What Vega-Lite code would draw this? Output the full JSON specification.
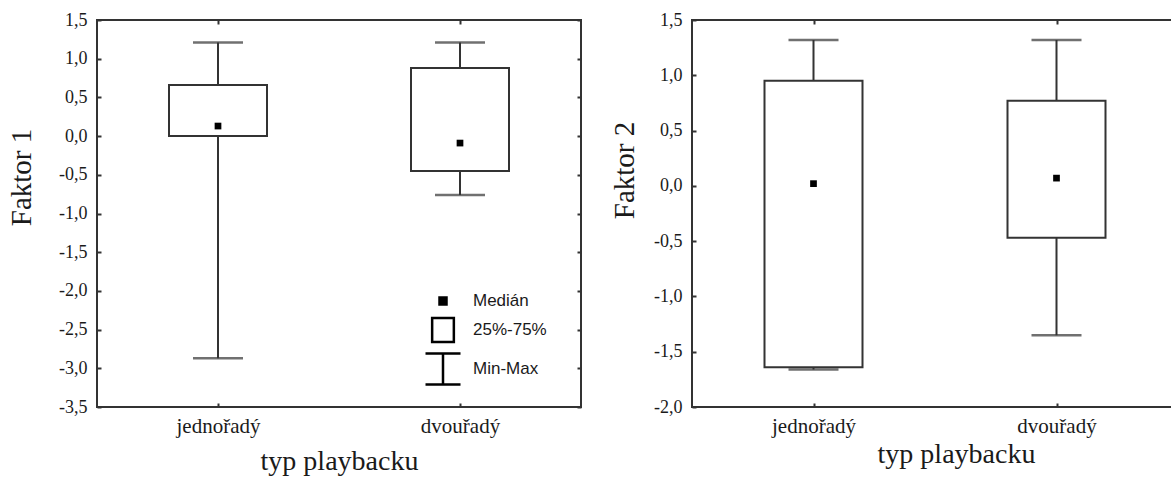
{
  "$schema": "https://vega.github.io/schema/vega-lite/v6.json",
  "background": "white",
  "padding": {"left": 6, "top": 10, "right": 0, "bottom": 0},
  "spacing": 26,
  "config": {
    "view": {"stroke": "#333", "strokeWidth": 2},
    "font": "Liberation Serif",
    "axis": {
      "domain": false,
      "grid": false,
      "tickColor": "#333",
      "tickWidth": 2,
      "tickSize": -4,
      "labelColor": "#1a1a1a",
      "titleColor": "#1a1a1a",
      "titleFontWeight": "normal",
      "labelFont": "Liberation Serif",
      "titleFont": "Liberation Serif"
    }
  },
  "datasets": {
    "f1": [
      {"typ": "jednořadý", "min": -2.87, "q1": 0.0, "median": 0.13, "q3": 0.66, "max": 1.21},
      {"typ": "dvouřadý", "min": -0.76, "q1": -0.45, "median": -0.09, "q3": 0.88, "max": 1.21}
    ],
    "f2": [
      {"typ": "jednořadý", "min": -1.66, "q1": -1.64, "median": 0.02, "q3": 0.95, "max": 1.32},
      {"typ": "dvouřadý", "min": -1.35, "q1": -0.47, "median": 0.07, "q3": 0.77, "max": 1.32}
    ],
    "legend": [
      {"item": "Medián"},
      {"item": "25%-75%"},
      {"item": "Min-Max"}
    ]
  },
  "hconcat": [
    {
      "width": 484,
      "height": 387,
      "resolve": {"axis": {"x": "independent", "y": "independent"}},
      "layer": [
        {
          "data": {"name": "f1"},
          "mark": {"type": "rule", "stroke": "#333", "strokeWidth": 2},
          "encoding": {
            "x": {"field": "typ", "type": "nominal", "sort": ["jednořadý", "dvouřadý"], "scale": {"type": "point", "padding": 0.5},
              "axis": {"title": "typ playbacku", "labelAngle": 0, "labelFontSize": 21, "titleFontSize": 28, "labelPadding": 12, "titlePadding": 11}},
            "y": {"field": "min", "type": "quantitative", "scale": {"domain": [-3.5, 1.5], "nice": false, "zero": false},
              "axis": {"title": "Faktor 1", "titleY": 157, "values": [-3.5, -3, -2.5, -2, -1.5, -1, -0.5, 0, 0.5, 1, 1.5], "labelExpr": "replace(replace(format(datum.value, '.1f'), '.', ','), '\u2212', '-')", "labelFontSize": 18, "titleFontSize": 29, "labelPadding": 14, "titlePadding": 22}},
            "y2": {"field": "max"}
          }
        },
        {
          "data": {"name": "f1"},
          "mark": {"type": "bar", "size": 98, "fill": "white", "stroke": "#333", "strokeWidth": 2},
          "encoding": {
            "x": {"field": "typ", "type": "nominal", "sort": ["jednořadý", "dvouřadý"], "axis": {"orient": "top", "labels": false, "title": null}},
            "y": {"field": "q1", "type": "quantitative", "axis": {"orient": "right", "labels": false, "title": null, "values": [-3.5, -3, -2.5, -2, -1.5, -1, -0.5, 0, 0.5, 1, 1.5]}},
            "y2": {"field": "q3"}
          }
        },
        {
          "data": {"name": "f1"},
          "mark": {"type": "tick", "size": 50, "thickness": 2.5, "color": "#333"},
          "encoding": {
            "x": {"field": "typ", "type": "nominal", "sort": ["jednořadý", "dvouřadý"], "axis": null},
            "y": {"field": "max", "type": "quantitative", "axis": null}
          }
        },
        {
          "data": {"name": "f1"},
          "mark": {"type": "tick", "size": 50, "thickness": 2.5, "color": "#333"},
          "encoding": {
            "x": {"field": "typ", "type": "nominal", "sort": ["jednořadý", "dvouřadý"], "axis": null},
            "y": {"field": "min", "type": "quantitative", "axis": null}
          }
        },
        {
          "data": {"name": "f1"},
          "mark": {"type": "square", "size": 45, "color": "black", "opacity": 1},
          "encoding": {
            "x": {"field": "typ", "type": "nominal", "sort": ["jednořadý", "dvouřadý"], "axis": null},
            "y": {"field": "median", "type": "quantitative", "axis": null}
          }
        },
        {
          "data": {"name": "legend"},
          "transform": [{"filter": "false"}],
          "mark": {"type": "point", "filled": false, "strokeWidth": 2.5, "opacity": 1},
          "encoding": {
            "shape": {"field": "item", "type": "nominal", "sort": ["Medián", "25%-75%", "Min-Max"],
              "scale": {"domain": ["Medián", "25%-75%", "Min-Max"], "range": ["M-0.2,-0.2H0.2V0.2H-0.2Z", "M-0.62,-0.68H0.62V0.68H-0.62Z", "M-1,-0.88H1M0,-0.88V0.88M-1,0.88H1"]},
              "legend": {"title": null, "orient": "none", "legendX": 327, "legendY": 262, "symbolSize": 1225, "symbolStrokeWidth": 2.5, "symbolOpacity": 1, "labelFont": "Liberation Sans", "labelFontSize": 17, "labelColor": "#1a1a1a", "labelOffset": 11, "rowPadding": 1, "padding": 0}},
            "fill": {"field": "item", "type": "nominal", "sort": ["Medián", "25%-75%", "Min-Max"],
              "scale": {"domain": ["Medián", "25%-75%", "Min-Max"], "range": ["black", "white", "white"]}},
            "stroke": {"field": "item", "type": "nominal", "sort": ["Medián", "25%-75%", "Min-Max"],
              "scale": {"domain": ["Medián", "25%-75%", "Min-Max"], "range": ["black", "black", "black"]}}
          }
        }
      ]
    },
    {
      "width": 486,
      "height": 387,
      "resolve": {"axis": {"x": "independent", "y": "independent"}},
      "layer": [
        {
          "data": {"name": "f2"},
          "mark": {"type": "rule", "stroke": "#333", "strokeWidth": 2},
          "encoding": {
            "x": {"field": "typ", "type": "nominal", "sort": ["jednořadý", "dvouřadý"], "scale": {"type": "point", "padding": 0.5},
              "axis": {"title": "typ playbacku", "titleX": 264, "labelAngle": 0, "labelFontSize": 21, "titleFontSize": 28, "labelPadding": 12, "titlePadding": 4}},
            "y": {"field": "min", "type": "quantitative", "scale": {"domain": [-2, 1.5], "nice": false, "zero": false},
              "axis": {"title": "Faktor 2", "titleY": 150, "values": [-2, -1.5, -1, -0.5, 0, 0.5, 1, 1.5], "labelExpr": "replace(replace(format(datum.value, '.1f'), '.', ','), '\u2212', '-')", "labelFontSize": 18, "titleFontSize": 29, "labelPadding": 14, "titlePadding": 14}},
            "y2": {"field": "max"}
          }
        },
        {
          "data": {"name": "f2"},
          "mark": {"type": "bar", "size": 98, "fill": "white", "stroke": "#333", "strokeWidth": 2},
          "encoding": {
            "x": {"field": "typ", "type": "nominal", "sort": ["jednořadý", "dvouřadý"], "axis": {"orient": "top", "labels": false, "title": null}},
            "y": {"field": "q1", "type": "quantitative", "axis": {"orient": "right", "labels": false, "title": null, "values": [-2, -1.5, -1, -0.5, 0, 0.5, 1, 1.5]}},
            "y2": {"field": "q3"}
          }
        },
        {
          "data": {"name": "f2"},
          "mark": {"type": "tick", "size": 50, "thickness": 2.5, "color": "#333"},
          "encoding": {
            "x": {"field": "typ", "type": "nominal", "sort": ["jednořadý", "dvouřadý"], "axis": null},
            "y": {"field": "max", "type": "quantitative", "axis": null}
          }
        },
        {
          "data": {"name": "f2"},
          "mark": {"type": "tick", "size": 50, "thickness": 2.5, "color": "#333"},
          "encoding": {
            "x": {"field": "typ", "type": "nominal", "sort": ["jednořadý", "dvouřadý"], "axis": null},
            "y": {"field": "min", "type": "quantitative", "axis": null}
          }
        },
        {
          "data": {"name": "f2"},
          "mark": {"type": "square", "size": 45, "color": "black", "opacity": 1},
          "encoding": {
            "x": {"field": "typ", "type": "nominal", "sort": ["jednořadý", "dvouřadý"], "axis": null},
            "y": {"field": "median", "type": "quantitative", "axis": null}
          }
        }
      ]
    }
  ]
}
